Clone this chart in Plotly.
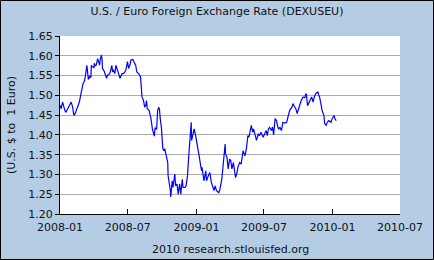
import plotly.graph_objects as go

dates = [
    "2008-01-02","2008-01-04","2008-01-08","2008-01-11","2008-01-14","2008-01-17","2008-01-22","2008-01-25","2008-01-28","2008-01-31",
    "2008-02-04","2008-02-07","2008-02-11","2008-02-14","2008-02-18","2008-02-21","2008-02-22","2008-02-26","2008-02-28",
    "2008-03-03","2008-03-06","2008-03-07","2008-03-10","2008-03-13","2008-03-14","2008-03-17","2008-03-19","2008-03-20","2008-03-24","2008-03-25","2008-03-28",
    "2008-04-01","2008-04-02","2008-04-04","2008-04-07","2008-04-09","2008-04-11","2008-04-15","2008-04-16","2008-04-18","2008-04-21","2008-04-23","2008-04-24","2008-04-28","2008-04-30",
    "2008-05-02","2008-05-05","2008-05-07","2008-05-09","2008-05-13","2008-05-15","2008-05-19","2008-05-21","2008-05-23","2008-05-27","2008-05-30",
    "2008-06-03","2008-06-06","2008-06-10","2008-06-12","2008-06-16","2008-06-19","2008-06-23","2008-06-26","2008-06-30",
    "2008-07-03","2008-07-07","2008-07-09","2008-07-14","2008-07-15","2008-07-17","2008-07-22","2008-07-25","2008-07-30",
    "2008-08-04","2008-08-07","2008-08-08","2008-08-12","2008-08-15","2008-08-18","2008-08-20","2008-08-22","2008-08-27",
    "2008-09-01","2008-09-03","2008-09-05","2008-09-10","2008-09-12","2008-09-16","2008-09-18","2008-09-19","2008-09-22","2008-09-24","2008-09-26","2008-09-29",
    "2008-10-01","2008-10-03","2008-10-06","2008-10-08","2008-10-10","2008-10-14","2008-10-16","2008-10-17","2008-10-21","2008-10-23","2008-10-24","2008-10-28","2008-10-30",
    "2008-11-04","2008-11-06","2008-11-10","2008-11-13","2008-11-17","2008-11-20","2008-11-24","2008-11-26",
    "2008-12-01","2008-12-04","2008-12-08","2008-12-11","2008-12-16","2008-12-18","2008-12-19","2008-12-22","2008-12-26","2008-12-30",
    "2009-01-05","2009-01-08","2009-01-13","2009-01-15","2009-01-16","2009-01-21","2009-01-26","2009-01-28",
    "2009-02-02","2009-02-06","2009-02-10","2009-02-17","2009-02-20","2009-02-24",
    "2009-03-02","2009-03-05","2009-03-10","2009-03-13","2009-03-16","2009-03-19","2009-03-20","2009-03-24","2009-03-27","2009-03-31",
    "2009-04-03","2009-04-06","2009-04-10","2009-04-14","2009-04-16","2009-04-20","2009-04-22","2009-04-27",
    "2009-05-01","2009-05-06","2009-05-11","2009-05-15","2009-05-19","2009-05-22","2009-05-26","2009-05-28",
    "2009-06-01","2009-06-03","2009-06-08","2009-06-11","2009-06-16","2009-06-19","2009-06-23","2009-06-29",
    "2009-07-03","2009-07-07","2009-07-10","2009-07-13","2009-07-16","2009-07-21","2009-07-24","2009-07-27","2009-07-31",
    "2009-08-04","2009-08-07","2009-08-10","2009-08-13","2009-08-17","2009-08-21","2009-08-26","2009-08-31",
    "2009-09-04","2009-09-08","2009-09-14","2009-09-17","2009-09-22","2009-09-25","2009-09-28",
    "2009-10-02","2009-10-06","2009-10-09","2009-10-14","2009-10-19","2009-10-21","2009-10-23","2009-10-26","2009-10-28","2009-10-30",
    "2009-11-03","2009-11-06","2009-11-10","2009-11-13","2009-11-18","2009-11-23","2009-11-25","2009-11-27","2009-11-30",
    "2009-12-04","2009-12-09","2009-12-11","2009-12-15","2009-12-18","2009-12-22","2009-12-28","2009-12-31",
    "2010-01-05","2010-01-08","2010-01-11",
]

rates = [
    1.4745,1.466,1.483,1.470,1.462,1.457,1.466,1.475,1.479,1.483,
    1.470,1.449,1.455,1.462,1.470,1.476,1.483,1.503,1.513,
    1.530,1.535,1.538,1.555,1.576,1.568,1.540,1.543,1.548,1.545,1.576,1.572,
    1.570,1.581,1.575,1.576,1.585,1.593,1.580,1.576,1.590,1.602,1.590,1.568,1.562,1.555,
    1.550,1.543,1.551,1.551,1.555,1.560,1.576,1.559,1.565,1.555,1.576,
    1.564,1.560,1.543,1.548,1.555,1.555,1.559,1.565,1.585,
    1.568,1.578,1.589,1.591,1.589,1.585,1.576,1.559,1.555,
    1.547,1.517,1.496,1.487,1.470,1.474,1.487,1.466,1.462,
    1.441,1.424,1.414,1.397,1.418,1.414,1.440,1.462,1.470,1.462,1.440,1.419,
    1.390,1.365,1.360,1.365,1.356,1.339,1.330,1.297,1.276,1.260,1.243,1.284,1.267,
    1.301,1.271,1.276,1.250,1.276,1.250,1.288,1.267,
    1.267,1.271,1.297,1.343,1.400,1.432,1.386,1.398,1.415,1.397,
    1.369,1.348,1.318,1.309,1.318,1.284,1.309,1.284,
    1.297,1.305,1.280,1.259,1.271,1.259,
    1.254,1.263,1.288,1.320,1.343,1.377,1.352,1.343,1.314,1.339,
    1.335,1.314,1.330,1.297,1.292,1.305,1.318,1.330,
    1.326,1.360,1.347,1.365,1.398,1.394,1.411,1.424,
    1.407,1.415,1.398,1.386,1.403,1.398,1.407,1.394,
    1.403,1.411,1.398,1.415,1.419,1.411,1.420,1.400,1.441,
    1.436,1.420,1.415,1.419,1.411,1.432,1.430,1.432,
    1.445,1.462,1.470,1.479,1.470,1.465,1.454,
    1.466,1.479,1.487,1.496,1.494,1.504,1.502,1.474,1.478,1.483,
    1.492,1.496,1.483,1.496,1.506,1.508,1.500,1.497,1.483,
    1.462,1.449,1.428,1.424,1.432,1.436,1.432,1.441,
    1.449,1.440,1.436,
]

title_text = "U.S. / Euro Foreign Exchange Rate (DEXUSEU)"
y_title = "(U.S. $ to  1 Euro)"
footer = "2010 research.stlouisfed.org"
x_ticks = ["2008-01-01","2008-07-01","2009-01-01","2009-07-01","2010-01-01","2010-07-01"]
x_ticklabels = ["2008-01","2008-07","2009-01","2009-07","2010-01","2010-07"]

W, H = 434, 260
ML, MR, MT, MB = 60, 34, 36, 46
PW, PH = W - ML - MR, H - MT - MB
BG = "#b4cde4"
FONT = "DejaVu Sans"
TXT = "#111111"

fig = go.Figure()
fig.add_trace(go.Scatter(x=dates, y=rates, mode="lines",
                         line=dict(color="#0000ff", width=1.2), showlegend=False))

fig.update_layout(
    width=W, height=H,
    margin=dict(l=ML, r=MR, t=MT, b=MB, pad=0),
    paper_bgcolor=BG, plot_bgcolor="white",
    font=dict(family=FONT, size=11, color=TXT),
    title=dict(text=title_text, x=0.5, xanchor="center", y=1 - 11 / H, yanchor="middle",
               font=dict(family=FONT, size=11, color=TXT)),
    xaxis=dict(range=["2008-01-01", "2010-07-01"], tickvals=x_ticks, ticktext=x_ticklabels,
               ticks="inside", ticklen=5, tickcolor="black", showgrid=False,
               showline=True, linecolor="black", linewidth=1, zeroline=False,
               tickfont=dict(size=11), automargin=False, ticklabelstandoff=3),
    yaxis=dict(range=[1.20, 1.65], dtick=0.05, tick0=1.20, tickformat=".2f",
               ticks="outside", ticklen=4, tickcolor="black", showgrid=True,
               gridcolor="#aaaaaa", gridwidth=1, showline=True, linecolor="black",
               linewidth=1, zeroline=False, tickfont=dict(size=11), automargin=False),
    annotations=[
        dict(text=footer, xref="paper", yref="paper", x=0.5,
             y=-(249 - (H - MB)) / PH, xanchor="center", yanchor="middle",
             showarrow=False, font=dict(family=FONT, size=11, color=TXT)),
        dict(text=y_title, xref="paper", yref="paper", x=(11 - ML) / PW, y=0.5,
             xanchor="center", yanchor="middle", textangle=-90,
             showarrow=False, font=dict(family=FONT, size=11, color=TXT)),
    ],
    shapes=[dict(type="rect", xref="paper", yref="paper",
                 x0=(-ML + 0.5) / PW, x1=1 + (MR - 0.5) / PW,
                 y0=(-MB + 0.5) / PH, y1=1 + (MT - 0.5) / PH,
                 line=dict(color="black", width=1), layer="above")],
)

fig.write_html("out.html")
